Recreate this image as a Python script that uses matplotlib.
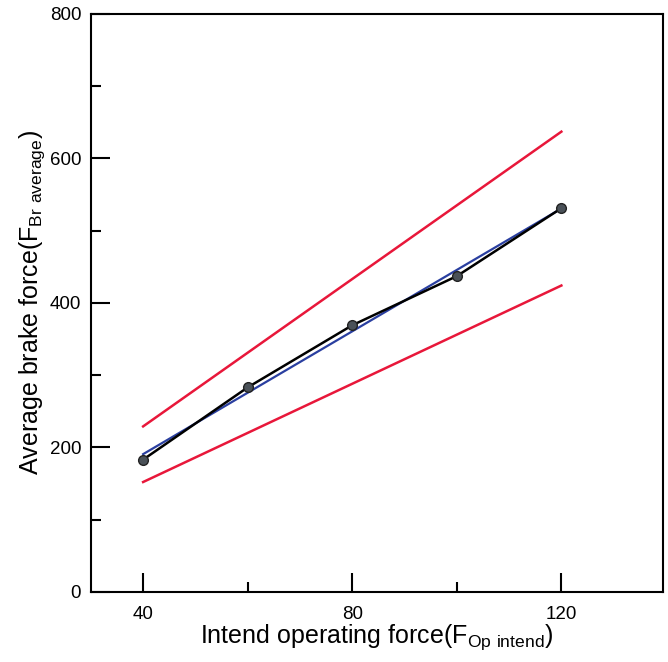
import matplotlib
matplotlib.use('Agg')
import matplotlib.pyplot as plt
import numpy as np
from matplotlib.ticker import MultipleLocator, FixedLocator

plt.rcParams['font.family'] = ['Liberation Sans', 'DejaVu Sans']
plt.rcParams['mathtext.fontset'] = 'custom'
plt.rcParams['mathtext.rm'] = 'Liberation Sans'

# measured points
force_op = [40, 60, 80, 100, 120]
force_br = [183, 283, 369, 437, 531]

# bounds (red lines), endpoints
bound_x = [40, 120]
upper_y = [229, 637]
lower_y = [152, 424]

fig = plt.figure(figsize=(6.68, 6.62), dpi=100)
ax = fig.add_axes([0.136, 0.106, 0.857, 0.873])

# linear fit
k, b = np.polyfit(force_op, force_br, 1)
fit_x = np.array([force_op[0], force_op[-1]])

ax.plot(bound_x, upper_y, color='#e8173a', lw=1.8)
ax.plot(bound_x, lower_y, color='#e8173a', lw=1.8)
ax.plot(fit_x, k * fit_x + b, color='#2a3fa0', lw=1.6)
ax.plot(force_op, force_br, color='black', lw=1.8, marker='o', markersize=7,
        markerfacecolor='#4a5158', markeredgecolor='#222222', zorder=3)

ax.set_xlim(30, 139.5)
ax.set_ylim(0, 800)
ax.xaxis.set_major_locator(FixedLocator([40, 80, 120]))
ax.xaxis.set_minor_locator(FixedLocator([60, 100]))
ax.yaxis.set_major_locator(MultipleLocator(200))
ax.yaxis.set_minor_locator(MultipleLocator(100))
ax.tick_params(which='both', direction='in', width=1.5, labelsize=13.5)
ax.tick_params(axis='y', which='major', length=14, pad=7)
ax.tick_params(axis='x', which='major', length=14, pad=10)
ax.tick_params(which='minor', length=7)
for s in ax.spines.values():
    s.set_linewidth(1.5)

ax.set_xlabel(r'Intend operating force($\mathregular{F_{Op\ intend}}$)', fontsize=18, labelpad=0)
ax.set_ylabel(r'Average brake force($\mathregular{F_{Br\ average}}$)', fontsize=18, labelpad=2)

fig.savefig('out.png', dpi=100)
